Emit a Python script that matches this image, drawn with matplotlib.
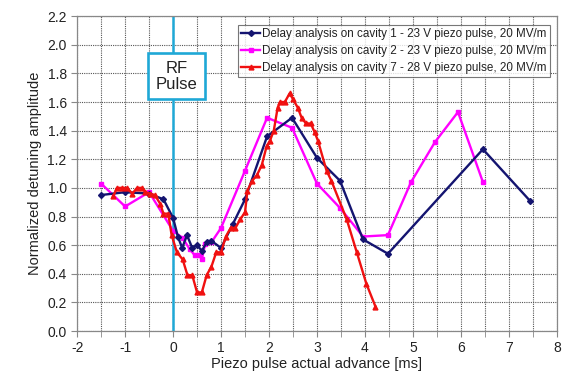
import matplotlib
matplotlib.use("Agg")
import matplotlib.pyplot as plt
from matplotlib.ticker import MultipleLocator

plt.rcParams['font.family'] = ['Liberation Sans', 'DejaVu Sans']
plt.rcParams['axes.unicode_minus'] = False

# Cavity 1 - 23 V
x_c1 = [-1.5, -1.0, -0.5, -0.2, 0.0, 0.1, 0.19, 0.29, 0.4, 0.5, 0.6, 0.7, 0.8, 1.0,
        1.25, 1.5, 1.96, 2.48, 3.0, 3.48, 3.96, 4.48, 6.46, 7.44]
y_c1 = [0.95, 0.97, 0.96, 0.92, 0.79, 0.66, 0.58, 0.67, 0.58, 0.60, 0.56, 0.62, 0.63, 0.58,
        0.75, 0.92, 1.36, 1.49, 1.21, 1.05, 0.64, 0.54, 1.27, 0.91]

# Cavity 2 - 23 V
x_c2 = [-1.5, -1.0, -0.5, 0.0, 0.2, 0.35, 0.45, 0.55, 0.6, 0.67, 0.8, 1.0, 1.5, 1.96,
        2.48, 3.0, 3.48, 3.96, 4.48, 4.96, 5.46, 5.94, 6.46]
y_c2 = [1.03, 0.87, 0.97, 0.70, 0.65, 0.57, 0.53, 0.53, 0.50, 0.61, 0.62, 0.72, 1.12, 1.49,
        1.42, 1.03, 0.86, 0.66, 0.67, 1.04, 1.32, 1.53, 1.04]

# Cavity 7 - 28 V
x_c7 = [-1.25, -1.17, -1.06, -0.96, -0.85, -0.75, -0.65, -0.58, -0.48, -0.38, -0.27, -0.2,
        -0.1, -0.03, 0.08, 0.2, 0.3, 0.4, 0.5, 0.6, 0.7, 0.8, 0.9, 1.0, 1.1, 1.2, 1.3, 1.4,
        1.5, 1.55, 1.65, 1.75, 1.85, 1.95, 2.02, 2.1, 2.18, 2.23, 2.33, 2.43, 2.5, 2.6, 2.68,
        2.77, 2.87, 2.95, 3.02, 3.2, 3.3, 3.62, 3.83, 4.03, 4.22]
y_c7 = [0.94, 1.0, 1.0, 1.0, 0.96, 1.0, 1.0, 0.97, 0.96, 0.95, 0.89, 0.82,
        0.82, 0.67, 0.55, 0.50, 0.39, 0.39, 0.27, 0.27, 0.39, 0.45, 0.55, 0.55, 0.66, 0.72, 0.72, 0.78,
        0.83, 0.98, 1.05, 1.09, 1.16, 1.29, 1.33, 1.40, 1.56, 1.60, 1.60, 1.66, 1.62, 1.56, 1.49,
        1.45, 1.45, 1.39, 1.33, 1.12, 1.05, 0.78, 0.55, 0.33, 0.17]

labels = ["Delay analysis on cavity 1 - 23 V piezo pulse, 20 MV/m",
          "Delay analysis on cavity 2 - 23 V piezo pulse, 20 MV/m",
          "Delay analysis on cavity 7 - 28 V piezo pulse, 20 MV/m"]

fig = plt.figure(figsize=(5.63, 3.84), dpi=100)
ax = fig.add_axes([0.137, 0.138, 0.852, 0.820])

ax.axvline(0, color='#1FA8D6', lw=1.8, zorder=2)

ax.plot(x_c1, y_c1, color='#141470', lw=1.7, marker='D', ms=3, label=labels[0], zorder=4)
ax.plot(x_c2, y_c2, color='#FF00FF', lw=1.7, marker='s', ms=3.5, label=labels[1], zorder=3)
ax.plot(x_c7, y_c7, color='#F01010', lw=1.7, marker='^', ms=3.5, label=labels[2], zorder=5)

ax.set_xlim(-2, 8)
ax.set_ylim(0, 2.2)
ax.xaxis.set_major_locator(MultipleLocator(1))
ax.xaxis.set_minor_locator(MultipleLocator(0.5))
ax.yaxis.set_major_locator(MultipleLocator(0.2))
ax.yaxis.set_major_formatter(matplotlib.ticker.FormatStrFormatter('%.1f'))
ax.grid(True, which='both', axis='x', color='#555555', ls=(0, (1, 1)), lw=0.8)
ax.grid(True, which='major', axis='y', color='#555555', ls=(0, (1, 1)), lw=0.8)
ax.set_axisbelow(True)
for s in ax.spines.values():
    s.set_color('#888888')
    s.set_linewidth(0.9)
ax.tick_params(which='both', direction='out', color='#888888', length=4, labelsize=10,
               labelcolor='#222222')
ax.tick_params(which='minor', length=4)

ax.set_xlabel("Piezo pulse actual advance [ms]", fontsize=10.5, color='#222222', labelpad=1)
ax.set_ylabel("Normalized detuning amplitude", fontsize=10.5, color='#222222', labelpad=4)

ax.text(0.07, 1.78, "RF\nPulse", ha='center', va='center', fontsize=12, color='#222222',
        linespacing=1.05,
        bbox=dict(boxstyle='square,pad=0.45', fc='white', ec='#1FA8D6', lw=1.9), zorder=6)

leg = ax.legend(loc='upper right', fontsize=8.4, frameon=True, fancybox=False,
                handlelength=1.6, handletextpad=0.2, borderpad=0.3, labelspacing=0.4,
                borderaxespad=0.35, bbox_to_anchor=(0.995, 0.985))
leg.get_frame().set_edgecolor('#555555')
leg.get_frame().set_linewidth(0.8)
for t in leg.get_texts():
    t.set_color('#222222')

fig.savefig("out.png", dpi=100)
